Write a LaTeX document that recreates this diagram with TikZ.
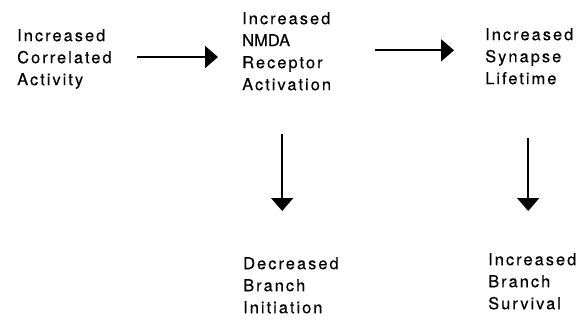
\documentclass[tikz,border=0pt]{standalone}
\usepackage{fontspec}
\setmainfont{TeX Gyre Heros}[LetterSpace=12, FakeBold=0.25]
\newfontfamily\tightfont{TeX Gyre Heros}[FakeBold=0.25]
\usepackage{tikz}
\usetikzlibrary{arrows.meta}
\usetikzlibrary{positioning}
\tikzset{arr/.style = {line width=2pt, -{Triangle[width=22pt, length=13pt]}}}
\tikzset{lbl/.style = {inner sep=0pt, anchor=north west, align=left,
                       font=\fontsize{16.5}{22}\selectfont}}

\begin{document}
\begin{tikzpicture}[x=1pt, y=-1pt]
      \useasboundingbox (0, 0) rectangle (585, 320);
      \node [lbl, text width=101pt] (act) at (17, 29) {Increased\\Correlated\\Activity};
      \node [lbl, text width=95pt] (nmda) at (242, 12) {Increased\\{\tightfont NMDA}\\Receptor\\Activation};
      \node [lbl, text width=90pt] (life) at (485, 28) {Increased\\Synapse\\Lifetime};
      \node [lbl] (init) at (243, 257) {Decreased\\Branch\\Initiation};
      \node [lbl] (surv) at (488, 253) {Increased\\Branch\\Survival};

      \draw [arr, shorten <=19pt, shorten >=24pt] ([yshift=2pt]act.east) -- ([yshift=2pt]act.east -| nmda.west);
      \draw [arr, shorten <=38pt, shorten >=31pt] ([yshift=1pt]nmda.east) -- ([yshift=1pt]nmda.east -| life.west);
      \draw [arr, shorten <=43pt, shorten >=46pt] ([xshift=-7.5pt]nmda.south) -- ([xshift=-7.5pt]nmda.south |- init.north);
      \draw [arr, shorten <=53pt, shorten >=42pt] ([xshift=-2pt]life.south) -- ([xshift=-2pt]life.south |- surv.north);
    \end{tikzpicture}
\end{document}
